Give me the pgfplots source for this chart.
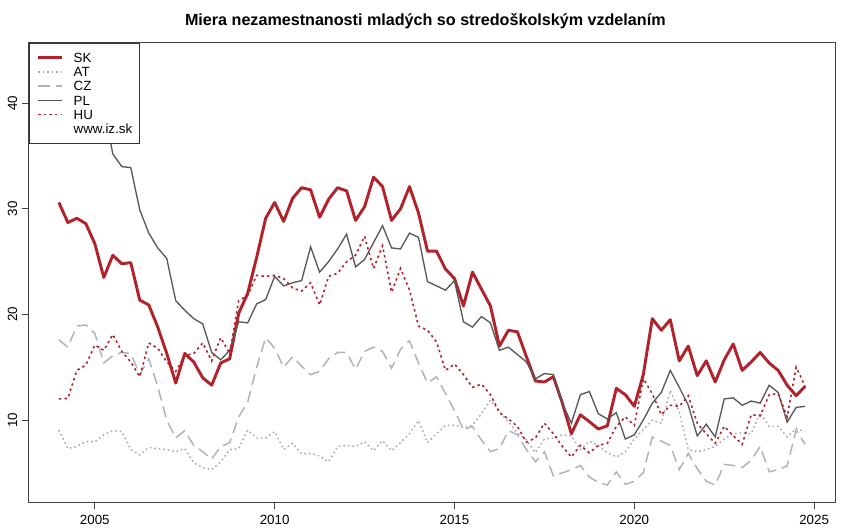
\documentclass[border=0pt]{standalone}
\usepackage{fontspec}
\setmainfont{Liberation Sans}
\usepackage{pgfplots}
\usepackage{pgfplotstable}
\pgfplotsset{compat=1.18}
\definecolor{skred}{RGB}{178,34,42}
\definecolor{atgray}{RGB}{168,168,174}
\definecolor{czgray}{RGB}{172,178,190}
\definecolor{plgray}{RGB}{88,88,88}

% quarterly values, 2004 Q1 - 2024 Q4
\pgfplotstableread{
x       SK     AT    CZ     PL    HU
2004.00 30.6   9.05  17.6   44.1  12.0
2004.25 28.7   7.3   16.9   43.5  12.05
2004.50 29.1   7.5   18.9   42.8  14.7
2004.75 28.6   7.95  19.0   42.0  15.2
2005.00 26.7   7.95  18.2   41.0  17.1
2005.25 23.5   8.6   15.4   39.6  16.6
2005.50 25.6   9.0   16.1   35.2  18.1
2005.75 24.8   8.9   16.4   34.0  16.5
2006.00 24.9   7.2   16.3   33.9  15.5
2006.25 21.35  6.7   14.3   29.9  14.1
2006.50 20.9   7.4   15.8   27.7  17.3
2006.75 18.8   7.3   13.15  26.3  16.8
2007.00 16.3   7.2   10.0   25.3  15.5
2007.25 13.5   7.0   8.3    21.3  14.6
2007.50 16.3   7.3   9.0    20.4  16.1
2007.75 15.5   5.95  7.6    19.6  16.3
2008.00 14.0   5.5   7.0    19.1  17.3
2008.25 13.3   5.3   6.3    16.4  15.6
2008.50 15.4   6.05  7.5    15.7  17.8
2008.75 15.8   7.2   7.85   16.6  16.3
2009.00 20.1   7.3   10.3   19.3  21.3
2009.25 22.0   9.05  11.7   19.2  21.8
2009.50 25.4   8.3   15.0   21.0  23.7
2009.75 29.1   8.3   17.8   21.4  23.6
2010.00 30.6   8.9   16.8   23.6  23.7
2010.25 28.8   7.2   15.0   22.7  23.4
2010.50 31.0   7.8   16.0   23.0  22.5
2010.75 32.0   6.8   15.1   23.2  22.2
2011.00 31.8   6.85  14.3   26.4  23.0
2011.25 29.2   6.6   14.6   24.0  20.9
2011.50 30.9   6.05  15.8   25.0  23.6
2011.75 32.0   7.5   16.4   26.2  23.9
2012.00 31.7   7.6   16.4   27.6  25.0
2012.25 28.9   7.5   14.8   24.5  25.6
2012.50 30.2   7.95  16.5   25.2  27.4
2012.75 33.0   7.1   16.9   26.8  24.35
2013.00 32.1   8.05  16.5   28.4  26.5
2013.25 28.9   7.1   14.9   26.3  22.1
2013.50 30.0   7.85  16.7   26.2  24.35
2013.75 32.1   8.7   17.5   27.7  22.3
2014.00 29.6   9.95  15.4   27.3  18.9
2014.25 26.0   7.85  13.5   23.1  18.5
2014.50 26.0   8.7   14.1   22.7  17.4
2014.75 24.3   9.5   12.5   22.3  14.7
2015.00 23.4   9.5   10.9   23.2  15.3
2015.25 20.8   9.3   9.1    19.3  14.3
2015.50 24.0   9.5   9.4    18.8  13.1
2015.75 22.4   10.6  8.1    19.8  13.4
2016.00 20.8   11.9  7.0    19.2  12.4
2016.25 17.0   10.8  7.3    16.6  10.7
2016.50 18.5   9.8   9.0    16.9  10.1
2016.75 18.35  8.8   8.6    16.2  9.4
2017.00 16.0   8.1   7.2    15.5  7.9
2017.25 13.7   6.9   6.05   13.9  8.3
2017.50 13.6   8.2   7.0    14.4  9.7
2017.75 14.1   8.3   4.7    14.3  8.7
2018.00 11.6   8.6   5.0    11.6  7.5
2018.25 8.7    8.5   5.3    9.7   6.5
2018.50 10.5   7.2   5.7    12.4  7.6
2018.75 9.85   8.0   4.6    12.7  6.9
2019.00 9.15   7.6   4.1    10.6  7.6
2019.25 9.45   6.9   3.85   10.1  7.8
2019.50 13.0   6.5   5.1    10.7  9.4
2019.75 12.4   7.0   3.9    8.2   10.3
2020.00 11.3   8.2   4.2    8.6   9.5
2020.25 14.3   9.1   5.0    10.0  13.9
2020.50 19.6   10.0  8.4    11.6  12.5
2020.75 18.5   9.7   8.0    12.6  10.5
2021.00 19.5   12.8  7.6    14.7  11.4
2021.25 15.6   10.8  5.3    13.1  11.3
2021.50 17.0   7.2   6.85   11.4  12.3
2021.75 14.2   7.0   5.4    8.5   9.7
2022.00 15.6   7.2   4.2    9.6   8.7
2022.25 13.6   7.5   3.85   8.4   7.8
2022.50 15.7   8.2   5.8    12.0  9.4
2022.75 17.2   8.7   5.7    12.1  8.5
2023.00 14.7   8.8   5.5    11.4  7.7
2023.25 15.5   8.7   6.2    11.8  10.5
2023.50 16.4   10.7  7.5    11.6  10.4
2023.75 15.4   9.4   5.1    13.3  12.4
2024.00 14.7   9.4   5.3    12.6  12.5
2024.25 13.3   8.4   5.65   9.8   10.3
2024.50 12.3   9.2   9.05   11.2  15.0
2024.75 13.2   8.9   7.7    11.3  13.2
}\data

\begin{document}
\begin{tikzpicture}
\useasboundingbox (-21.75pt,-22.5pt) rectangle (615.75pt,376.5pt);
\begin{axis}[
    at={(0,0)}, anchor=south west,
    width=604.5pt, height=344.25pt, scale only axis,
    xmin=2003.17, xmax=2025.58,
    ymin=2.24, ymax=45.7,
    xtick={2005,2010,2015,2020,2025},
    ytick={10,20,30,40},
    xtick pos=bottom, ytick pos=left,
    tick align=outside,
    major tick length=5.25pt,
    axis line style={black!75, line width=0.75pt},
    tick style={black!75, line width=0.75pt},
    /pgf/number format/1000 sep={},
    /pgf/number format/assume math mode=true,
    tick label style={font=\fontsize{10}{12}\selectfont},
    xticklabel style={yshift=-1pt},
    yticklabel style={rotate=90, anchor=south},
    title={Miera nezamestnanosti mladých so stredoškolským vzdelaním},
    title style={font=\bfseries\fontsize{12.1}{14}\selectfont, at={(0.5,1)}, anchor=base, yshift=7pt, xshift=-5pt},
    legend style={at={(0,1)}, anchor=north west, draw=black!80, line width=0.6pt,
        font=\fontsize{10}{12}\selectfont, inner xsep=5.5pt, inner ysep=5.3pt,
        nodes={inner sep=0pt, text height=9pt, text depth=1.7pt},
        column sep=7.5pt},
    legend cell align=left,
    legend image code/.code={\draw[#1] (0pt,0pt) -- (18pt,0pt);},
]
\addplot[skred, line width=2.2pt, line join=round] table[x=x, y=SK] {\data};
\addlegendentry{SK}
\addplot[atgray, line width=1.1pt, dash pattern=on 1.2pt off 2.2pt] table[x=x, y=AT] {\data};
\addlegendentry{AT}
\addplot[czgray, line width=1.1pt, dash pattern=on 8.5pt off 4.5pt] table[x=x, y=CZ] {\data};
\addlegendentry{CZ}
\addplot[plgray, line width=1pt] table[x=x, y=PL] {\data};
\addlegendentry{PL}
\addplot[skred, line width=1.2pt, dash pattern=on 1.8pt off 2.4pt] table[x=x, y=HU] {\data};
\addlegendentry{HU}
\addlegendimage{empty legend}
\addlegendentry{www.iz.sk}
\end{axis}
\end{tikzpicture}
\end{document}
